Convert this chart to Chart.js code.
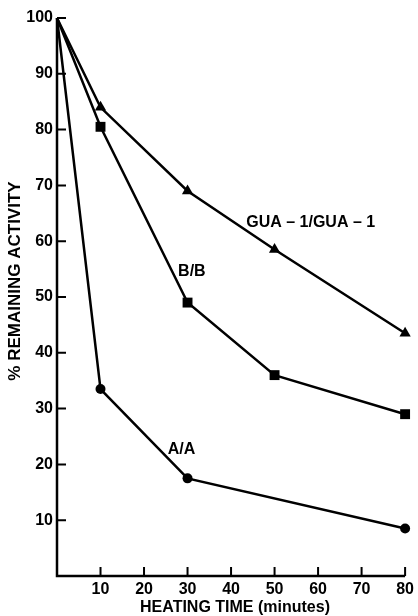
<!DOCTYPE html>
<html>
<head>
<meta charset="utf-8">
<script src="https://cdn.jsdelivr.net/npm/chart.js@4/dist/chart.umd.min.js"></script>
<style>
  html, body { margin: 0; padding: 0; background: #fff; }
  #wrap { width: 418px; height: 616px; }
</style>
</head>
<body>
<div id="wrap"><canvas id="grafico" width="418" height="616"></canvas></div>
<script>
// dados
const tempos = [0, 10, 30, 50, 80];
const temposAA = [0, 10, 30, 80];
const valoresGUA = [100, 84, 69, 58.5, 43.5];
const valoresBB = [100, 80.5, 49, 36, 29];
const valoresAA = [100, 33.5, 17.5, 8.5];
const ticksX = [10, 20, 30, 40, 50, 60, 70, 80];
const ticksY = [10, 20, 30, 40, 50, 60, 70, 80, 90, 100];

// rótulos das curvas, em coordenadas dos dados
const rotulos = [
  { texto: 'GUA \u2013 1/GUA \u2013 1', x: 58.3, y: 63.4 },
  { texto: 'B/B', x: 31, y: 54.5 },
  { texto: 'A/A', x: 28.6, y: 22.6 }
];

const tituloX = 'HEATING TIME (minutes)';
const tituloY = '% REMAINING ACTIVITY';

const fonte = 'Liberation Sans, Arial, Helvetica, sans-serif';

function pontos(xs, ys) {
  return xs.map((x, i) => ({ x: x, y: ys[i] }));
}

// sem marcador no ponto inicial (0, 100)
function raios(xs, r) {
  return xs.map(x => (x === 0 ? 0 : r));
}

// eixos com marcas para dentro + rótulos das curvas + títulos
const eixosPlugin = {
  id: 'eixos',
  afterDatasetsDraw(chart) {
    const ctx = chart.ctx;
    const sx = chart.scales.x;
    const sy = chart.scales.y;
    const x0 = sx.getPixelForValue(0);
    const y0 = sy.getPixelForValue(0);
    ctx.save();
    ctx.strokeStyle = '#000';
    ctx.lineWidth = 2.5;
    ctx.beginPath();
    ctx.moveTo(x0, sy.getPixelForValue(100));
    ctx.lineTo(x0, y0);
    ctx.lineTo(sx.getPixelForValue(80), y0);
    ctx.stroke();

    ctx.lineWidth = 2;
    ctx.beginPath();
    ticksY.forEach(v => {
      const py = sy.getPixelForValue(v);
      ctx.moveTo(x0, py);
      ctx.lineTo(x0 + 9, py);
    });
    ticksX.forEach(v => {
      const px = sx.getPixelForValue(v);
      ctx.moveTo(px, y0);
      ctx.lineTo(px, y0 - 9);
    });
    ctx.stroke();

    ctx.fillStyle = '#000';
    ctx.font = 'bold 16px ' + fonte;
    ctx.textAlign = 'center';
    ctx.textBaseline = 'middle';
    rotulos.forEach(r => {
      ctx.fillText(r.texto, sx.getPixelForValue(r.x), sy.getPixelForValue(r.y));
    });

    // títulos dos eixos
    ctx.font = 'bold 16px ' + fonte;
    ctx.fillText(tituloX, 235, 608);
    ctx.translate(15, 281);
    ctx.rotate(-Math.PI / 2);
    ctx.font = 'bold 17px ' + fonte;
    ctx.fillText(tituloY, 0, 0);
    ctx.restore();
  }
};

const estiloSerie = {
  borderColor: '#000',
  backgroundColor: '#000',
  borderWidth: 2.5,
  pointBorderWidth: 0,
  tension: 0,
  fill: false
};

const ctx = document.getElementById('grafico').getContext('2d');
const chart = new Chart(ctx, {
  type: 'line',
  data: {
    datasets: [
      Object.assign({ label: 'GUA - 1/GUA - 1', data: pontos(tempos, valoresGUA), pointStyle: 'triangle', pointRadius: raios(tempos, 6.5) }, estiloSerie),
      Object.assign({ label: 'B/B', data: pontos(tempos, valoresBB), pointStyle: 'rect', pointRadius: raios(tempos, 7) }, estiloSerie),
      Object.assign({ label: 'A/A', data: pontos(temposAA, valoresAA), pointStyle: 'circle', pointRadius: raios(temposAA, 5) }, estiloSerie)
    ]
  },
  options: {
    responsive: false,
    animation: false,
    devicePixelRatio: 1,
    clip: false,
    layout: { padding: { left: 0, right: 8, top: 18, bottom: 0 } },
    plugins: {
      legend: { display: false },
      tooltip: { enabled: false }
    },
    scales: {
      x: {
        type: 'linear',
        min: 0,
        max: 80,
        afterFit(scale) { scale.height = 40; },
        afterBuildTicks(scale) { scale.ticks = ticksX.map(v => ({ value: v })); },
        grid: { display: false, drawTicks: false },
        border: { display: false },
        ticks: {
          color: '#000',
          padding: 4,
          maxRotation: 0,
          font: { family: fonte, size: 16, weight: 'bold' }
        }
      },
      y: {
        type: 'linear',
        min: 0,
        max: 100,
        afterFit(scale) { scale.width = 57; },
        afterBuildTicks(scale) { scale.ticks = ticksY.map(v => ({ value: v })); },
        grid: { display: false, drawTicks: false },
        border: { display: false },
        ticks: {
          color: '#000',
          padding: 4,
          font: { family: fonte, size: 16, weight: 'bold' }
        }
      }
    }
  },
  plugins: [eixosPlugin]
});
</script>
</body>
</html>
